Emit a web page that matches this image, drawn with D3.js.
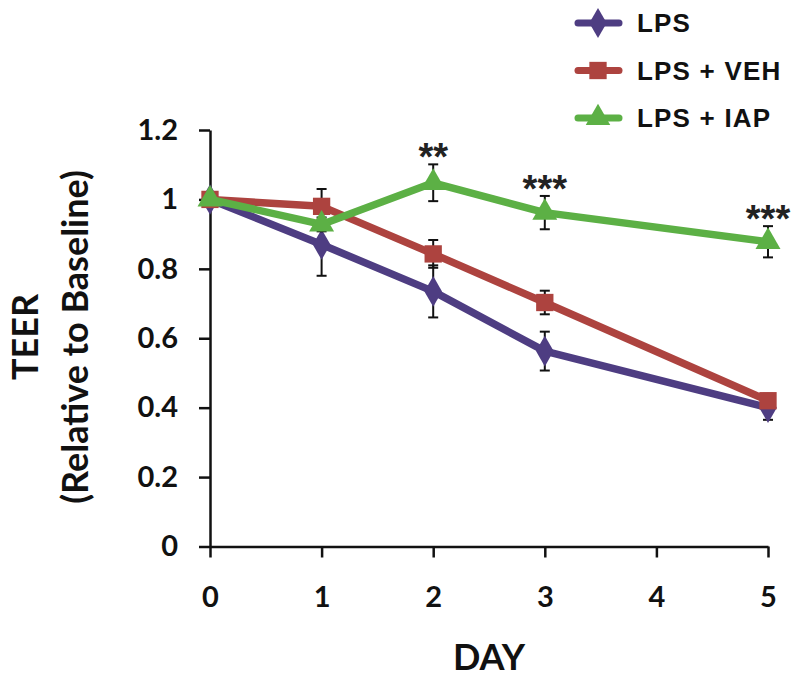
<!DOCTYPE html>
<html><head><meta charset="utf-8">
<script src="https://cdn.jsdelivr.net/npm/d3@7"></script>
<style>body{margin:0;background:#fff}</style>
</head><body><svg id="c" width="800" height="681"></svg>
<script>
const days = [0, 1, 2, 3, 5];
const xTicks = [0, 1, 2, 3, 4, 5];
const yTicks = [0, 0.2, 0.4, 0.6, 0.8, 1, 1.2];
const seriesNames = ["LPS", "LPS + VEH", "LPS + IAP"];
const lpsVals = [1.0, 0.87, 0.735, 0.563, 0.40];
const lpsErr  = [0, 0.09, 0.075, 0.056, 0.035];
const vehVals = [1.0, 0.98, 0.843, 0.703, 0.42];
const vehErr  = [0, 0.05, 0.04, 0.034, 0.02];
const iapVals = [1.0, 0.928, 1.048, 0.962, 0.878];
const iapErr  = [0, 0.02, 0.053, 0.048, 0.045];
const sigLabels = [{day: 2, label: "**"}, {day: 3, label: "***"}, {day: 5, label: "***"}];

const colors = ["#4e3d82", "#ad433f", "#5cb045"];
const shapes = [d3.symbolDiamond, d3.symbolSquare, d3.symbolTriangle];
const series = [
  {name: seriesNames[0], vals: lpsVals, err: lpsErr},
  {name: seriesNames[1], vals: vehVals, err: vehErr},
  {name: seriesNames[2], vals: iapVals, err: iapErr}
];

const svg = d3.select("#c");
const x = d3.scaleLinear().domain([0, 5]).range([210, 768]);
const y = d3.scaleLinear().domain([0, 1.2]).range([546.5, 130]);
const tickFont = "Lato, 'Open Sans', sans-serif";

// axes
const xAxis = svg.append("g").attr("transform", `translate(0,${y(0)})`)
  .call(d3.axisBottom(x).tickValues(xTicks).tickFormat(d3.format("d")).tickSize(11).tickPadding(29).tickSizeOuter(0));
const yAxis = svg.append("g").attr("transform", `translate(${x(0)},0)`)
  .call(d3.axisLeft(y).tickValues(yTicks).tickFormat(d => d === 0 ? "0" : (d === 1 ? "1" : d3.format(".1f")(d))).tickSize(11).tickPadding(21).tickSizeOuter(0));
[xAxis, yAxis].forEach(a => {
  a.select(".domain").attr("stroke", "#111").attr("stroke-width", 2.5);
  a.selectAll(".tick line").attr("stroke", "#111").attr("stroke-width", 2.5);
  a.selectAll(".tick text").attr("font-family", tickFont).attr("font-weight", "bold")
    .attr("font-size", 29).attr("fill", "#111");
});

// axis titles
svg.append("text").attr("x", 489).attr("y", 670).attr("text-anchor", "middle")
  .attr("font-family", tickFont).attr("font-weight", "bold").attr("font-size", 36).attr("fill", "#111").text("DAY");
svg.append("text").attr("transform", "translate(38,337) rotate(-90)").attr("text-anchor", "middle")
  .attr("font-family", tickFont).attr("font-weight", "bold").attr("font-size", 36).attr("fill", "#111").text("TEER");
svg.append("text").attr("transform", "translate(88,337) rotate(-90)").attr("text-anchor", "middle")
  .attr("font-family", tickFont).attr("font-weight", "bold").attr("font-size", 36).attr("fill", "#111").text("(Relative to Baseline)");

const line = d3.line().x(d => x(d.day)).y(d => y(d.v));
series.forEach((s, i) => {
  const pts = days.map((d, j) => ({day: d, v: s.vals[j], e: s.err[j]}));
  const g = svg.append("g");
  pts.filter(p => p.e > 0).forEach(p => {
    g.append("line").attr("x1", x(p.day)).attr("x2", x(p.day)).attr("y1", y(p.v - p.e)).attr("y2", y(p.v + p.e))
      .attr("stroke", "#111").attr("stroke-width", 2);
    [p.v - p.e, p.v + p.e].forEach(v => g.append("line").attr("x1", x(p.day) - 5).attr("x2", x(p.day) + 5)
      .attr("y1", y(v)).attr("y2", y(v)).attr("stroke", "#111").attr("stroke-width", 2));
  });
  g.append("path").datum(pts).attr("d", line).attr("fill", "none").attr("stroke", colors[i])
    .attr("stroke-width", 7.5).attr("stroke-linejoin", "round");
  g.selectAll("path.m").data(pts).enter().append("path").attr("class", "m")
    .attr("transform", p => `translate(${x(p.day)},${y(p.v)})`)
    .attr("d", d3.symbol().type(shapes[i]).size(i === 1 ? 300 : 270)).attr("fill", colors[i]);
});

// significance
sigLabels.forEach(s => {
  const j = days.indexOf(s.day);
  const v = iapVals[j] + iapErr[j];
  svg.append("text").attr("x", x(s.day)).attr("y", y(v) + 6).attr("text-anchor", "middle")
    .attr("font-family", "'Liberation Sans', Arial, sans-serif").attr("font-weight", "bold")
    .attr("font-size", 38).attr("fill", "#222").text(s.label);
});

// legend
const leg = svg.append("g");
series.forEach((s, i) => {
  const ly = 23 + i * 47.5;
  leg.append("line").attr("x1", 578).attr("x2", 619).attr("y1", ly).attr("y2", ly)
    .attr("stroke", colors[i]).attr("stroke-width", 7).attr("stroke-linecap", "round");
  leg.append("path").attr("transform", `translate(598,${ly})`)
    .attr("d", d3.symbol().type(shapes[i]).size(i === 1 ? 300 : 260)).attr("fill", colors[i]);
  leg.append("text").attr("x", 637).attr("y", ly + 9).attr("font-family", "'Liberation Sans', Arial, sans-serif")
    .attr("font-weight", "bold").attr("font-size", 26).attr("letter-spacing", 1.2).attr("fill", "#111").text(s.name);
});
</script></body></html>
